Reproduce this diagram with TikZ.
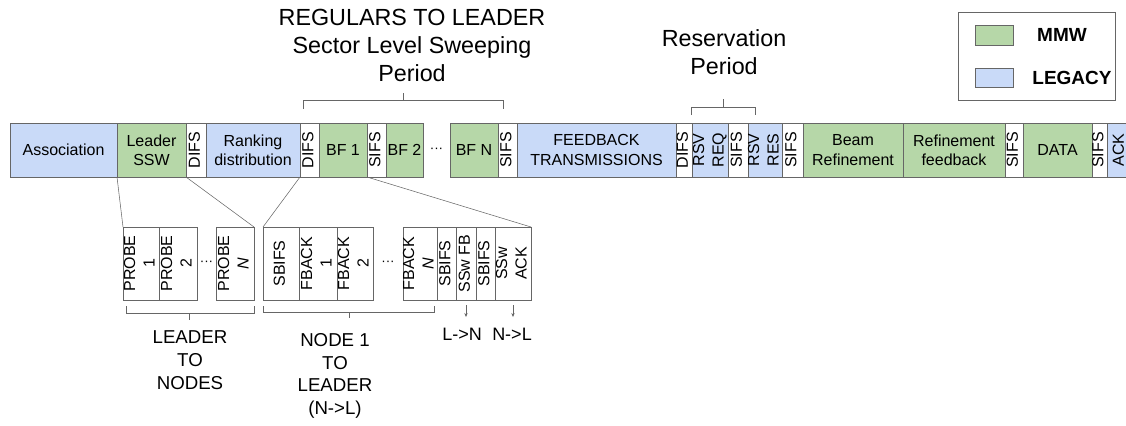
\documentclass[tikz,border=0pt]{standalone}
\usepackage{fontspec}
\setmainfont{Liberation Sans}
\usetikzlibrary{arrows.meta, positioning, calc}

\definecolor{mmwgreen}{HTML}{B6D7A8}
\definecolor{legacyblue}{HTML}{C9DAF8}
\definecolor{edgegray}{HTML}{666666}

% rotated (bottom to top) label, takes no width of its own
\newcommand{\vlab}[1]{\makebox[0pt]{\rotatebox{90}{\begin{tabular}{@{}c@{}}#1\end{tabular}}}}

\begin{document}
\begin{tikzpicture}[
        x=0.75pt, y=-0.75pt,
        slot/.style={rectangle, draw=edgegray, inner sep=0pt, outer sep=0pt, minimum height=40.5pt, align=center, font=\fontsize{12}{14.5}\selectfont},
        mmw/.style={slot, fill=mmwgreen},
        legacy/.style={slot, fill=legacyblue},
        sub/.style={slot, minimum height=54.75pt},
        gap/.style={inner sep=0pt, outer sep=0pt, font=\fontsize{10}{10}\selectfont},
        zoomline/.style={draw=edgegray, thin},
        brace/.style={draw=edgegray, thin},
        arrow/.style={draw=edgegray, thin, -{Stealth[length=3pt, width=2.5pt]}},
        title/.style={align=center, font=\fontsize{17.5}{21}\selectfont},
        caption/.style={align=center, font=\fontsize{14}{17}\selectfont}
        ]

\useasboundingbox (0,0) rectangle (1126,425);

% main frame
\node[legacy, minimum width=80.25pt, anchor=north west] (assoc) at (10,123) {Association};
\node[mmw, minimum width=51.75pt, right=0pt of assoc] (lssw) {Leader\\SSW};
\node[slot, minimum width=15pt, right=0pt of lssw] (difsa) {\vlab{DIFS}};
\node[legacy, minimum width=70.5pt, right=0pt of difsa] (rank) {Ranking\\distribution};
\node[slot, minimum width=14.25pt, right=0pt of rank] (difsb) {\vlab{DIFS}};
\node[mmw, minimum width=36pt, right=0pt of difsb] (bfa) {BF 1};
\node[slot, minimum width=14.25pt, right=0pt of bfa] (sifsa) {\vlab{SIFS}};
\node[mmw, minimum width=27.75pt, right=0pt of sifsa] (bfb) {BF 2};
\node[gap, minimum width=20.25pt, right=0pt of bfb] (bfdots) {···};
\node[mmw, minimum width=36pt, right=0pt of bfdots] (bfn) {BF N};
\node[slot, minimum width=14.25pt, right=0pt of bfn] (sifsb) {\vlab{SIFS}};
\node[legacy, minimum width=119.25pt, right=0pt of sifsb] (fbtx) {FEEDBACK\\TRANSMISSIONS};
\node[slot, minimum width=12pt, right=0pt of fbtx] (difsc) {\vlab{DIFS}};
\node[legacy, minimum width=27pt, right=0pt of difsc] (rsvreq) {\vlab{RSV\\REQ}};
\node[slot, minimum width=15pt, right=0pt of rsvreq] (sifsc) {\vlab{SIFS}};
\node[legacy, minimum width=25.5pt, right=0pt of sifsc] (rsvres) {\vlab{RSV\\RES}};
\node[slot, minimum width=15.75pt, right=0pt of rsvres] (sifsd) {\vlab{SIFS}};
\node[mmw, minimum width=75pt, right=0pt of sifsd] (beam) {Beam\\Refinement};
\node[mmw, minimum width=76.5pt, right=0pt of beam] (reffb) {Refinement\\feedback};
\node[slot, minimum width=13.5pt, right=0pt of reffb] (sifse) {\vlab{SIFS}};
\node[mmw, minimum width=51.75pt, right=0pt of sifse] (data) {DATA};
\node[slot, minimum width=11.25pt, right=0pt of data] (sifsf) {\vlab{SIFS}};
\node[legacy, minimum width=19.5pt, right=0pt of sifsf] (ack) {\vlab{ACK}};

% expanded slots
\node[sub, minimum width=27pt, anchor=north west] (probea) at (123,227) {\vlab{PROBE\\1}};
\node[sub, minimum width=28.5pt, right=0pt of probea] (probeb) {\vlab{PROBE\\2}};
\node[gap, minimum width=14.25pt, right=0pt of probeb] (probedots) {···};
\node[sub, minimum width=28.5pt, right=0pt of probedots] (proben) {\vlab{PROBE\\\textit{N}}};
\node[sub, minimum width=27pt, right=6.75pt of proben] (sbifsa) {\vlab{SBIFS}};
\node[sub, minimum width=28.5pt, right=0pt of sbifsa] (fbacka) {\vlab{FBACK\\1}};
\node[sub, minimum width=27pt, right=0pt of fbacka] (fbackb) {\vlab{FBACK\\2}};
\node[gap, minimum width=22.5pt, right=0pt of fbackb] (fbackdots) {···};
\node[sub, minimum width=25.5pt, right=0pt of fbackdots] (fbackn) {\vlab{FBACK\\\textit{N}}};
\node[sub, minimum width=14.25pt, right=0pt of fbackn] (sbifsb) {\vlab{SBIFS}};
\node[sub, minimum width=15pt, right=0pt of sbifsb] (sswfb) {\vlab{SSw FB}};
\node[sub, minimum width=14.25pt, right=0pt of sswfb] (sbifsc) {\vlab{SBIFS}};
\node[sub, minimum width=27pt, right=0pt of sbifsc] (sswack) {\vlab{SSw\\ACK}};

\draw[zoomline] (lssw.south west) -- (probea.north west);
\draw[zoomline] (lssw.south east) -- (proben.north east);
\draw[zoomline] (difsb.south west) -- (sbifsa.north west);
\draw[zoomline] (sifsa.south west) -- (sswack.north east);

% periods above
\node[title] (slsp) at (412,45) {REGULARS TO LEADER\\Sector Level Sweeping\\Period};
\node[title] (resv) at (724,52) {Reservation\\Period};
\draw[brace] (303,109) -- (303,100) -- (503,100) -- (503,109) (403,100) -- (403,93);
\draw[brace] (691,115) -- (691,107) -- (755,107) -- (755,115) (723,107) -- (723,99);

% groups below
\draw[brace] (126,306) -- (126,313) -- (254,313) -- (254,306) (189,313) -- (189,320);
\draw[brace] (263,306) -- (263,312) -- (434,312) -- (434,306) (349,312) -- (349,318);
\node[caption] (ltonodes) at (190,360) {LEADER\\TO\\NODES};
\node[caption] (nodetol) at (335,376) {NODE 1\\TO\\LEADER\\(N->L)};

\node[font=\fontsize{13.5}{16}\selectfont, anchor=north, inner sep=0pt] (lton) at (462,328) {L->N};
\node[font=\fontsize{13.5}{16}\selectfont, anchor=north, inner sep=0pt] (ntol) at (512,328) {N->L};
\draw[arrow, shorten <=3.75pt, shorten >=8.25pt] (sswfb.south) -- (sswfb.south |- lton.north);
\draw[arrow, shorten <=3.75pt, shorten >=8.25pt] (sswack.south) -- (sswack.south |- ntol.north);

% legend
\node[draw=edgegray, minimum width=117.75pt, minimum height=66pt, inner sep=0pt, anchor=north west] (legend) at (958,12) {};
\node[draw=edgegray, fill=mmwgreen, minimum width=28.5pt, minimum height=15pt, inner sep=0pt, anchor=north west] (mmwkey) at (975,25) {};
\node[draw=edgegray, fill=legacyblue, minimum width=28.5pt, minimum height=14.25pt, inner sep=0pt, anchor=north west] (legkey) at (975,68) {};
\node[font=\bfseries\fontsize{14.25}{17}\selectfont, inner sep=0pt] (mmwtxt) at (1062,34.5) {MMW};
\node[font=\bfseries\fontsize{14.25}{17}\selectfont, inner sep=0pt] (legtxt) at (1072,77.5) {LEGACY};
\end{tikzpicture}
\end{document}
